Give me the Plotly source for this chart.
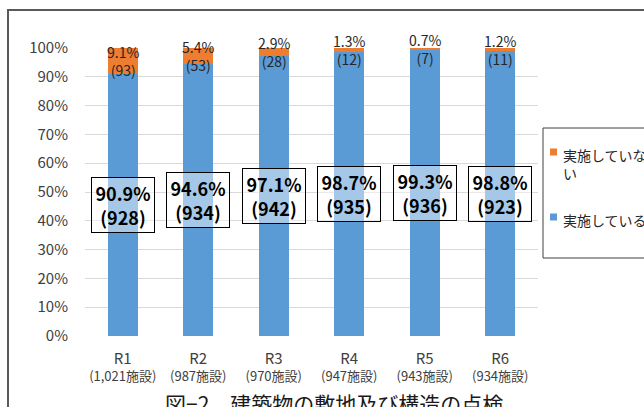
import plotly.graph_objects as go

categories = ["R1", "R2", "R3", "R4", "R5", "R6"]
facility_totals = ["1,021", "987", "970", "947", "943", "934"]
done_pct = [90.9, 94.6, 97.1, 98.7, 99.3, 98.8]
done_count = [928, 934, 942, 935, 936, 923]
notdone_pct = [9.1, 5.4, 2.9, 1.3, 0.7, 1.2]
notdone_count = [93, 53, 28, 12, 7, 11]
series_names = ["実施している", "実施していない"]
legend_labels = ["実施している", "実施していな<br>い"]
title_text = "図−2　建築物の敷地及び構造の点検"

BLUE = "#5B9BD5"
ORANGE = "#ED7D31"
FONT = "Noto Sans CJK JP"

W, H = 644, 407
L, R, T, B = 85, 106, 48, 71
pw, ph = W - L - R, H - T - B


def px(xp):
    return (xp - L) / pw


def py(yp):
    return (H - B - yp) / ph


fig = go.Figure()
fig.add_trace(go.Bar(x=categories, y=[v / 100 for v in done_pct], name=series_names[0],
                     marker=dict(color=BLUE, line=dict(width=0)), showlegend=False))
fig.add_trace(go.Bar(x=categories, y=[v / 100 for v in notdone_pct], name=series_names[1],
                     marker=dict(color=ORANGE, line=dict(width=0)), showlegend=False))

annotations = []
for c, dp, dc, npct, nc in zip(categories, done_pct, done_count, notdone_pct, notdone_count):
    annotations.append(dict(
        x=c, y=dp / 100 / 2, xref="x", yref="y",
        text=f"<b>{dp:.1f}%<br>({dc})</b>", showarrow=False,
        font=dict(family=FONT, size=18, color="#000000"),
        bordercolor="#000000", borderwidth=1, borderpad=3,
        bgcolor="rgba(255,255,255,0.45)", width=56, height=48,
    ))
    annotations.append(dict(
        x=c, y=(dp + npct / 2) / 100, xref="x", yref="y",
        text=f"{npct:.1f}%<br>({nc})", showarrow=False,
        font=dict(family=FONT, size=14, color="#262626"),
    ))

# title
annotations.append(dict(
    x=px(334), y=py(403), xref="paper", yref="paper", text=title_text,
    showarrow=False, font=dict(family=FONT, size=21, color="#1a1a1a"),
    xanchor="center", yanchor="middle",
))

# manual legend
legend_items = [(legend_labels[1], ORANGE, 152), (legend_labels[0], BLUE, 217)]
shapes = [
    dict(type="rect", xref="paper", yref="paper", x0=px(8), x1=px(700), y0=py(450), y1=py(10),
         line=dict(color="#5a5a5a", width=2), fillcolor="rgba(0,0,0,0)", layer="below"),
    dict(type="rect", xref="paper", yref="paper", x0=px(543), x1=px(700), y0=py(258), y1=py(128),
         line=dict(color="#404040", width=1), fillcolor="rgba(0,0,0,0)"),
]
for text, col, yc in legend_items:
    shapes.append(dict(type="rect", xref="paper", yref="paper", x0=px(550), x1=px(557),
                       y0=py(yc + 3.5), y1=py(yc - 3.5), line=dict(width=0), fillcolor=col))
    annotations.append(dict(x=px(561), y=py(yc - 9), xref="paper", yref="paper", text=text,
                            showarrow=False, xanchor="left", yanchor="top", align="left",
                            font=dict(family=FONT, size=14, color="#262626")))

ticktext = [f"<span style='font-size:15px'>{c}</span><br>({t}施設)" for c, t in zip(categories, facility_totals)]

fig.update_layout(
    width=W, height=H, margin=dict(l=L, r=R, t=T, b=B),
    barmode="stack", bargap=0.6,
    paper_bgcolor="white", plot_bgcolor="white",
    font=dict(family=FONT, color="#404040"),
    showlegend=False,
    annotations=annotations, shapes=shapes,
    xaxis=dict(type="category", tickvals=categories, ticktext=ticktext,
               tickfont=dict(size=13, color="#404040"), showgrid=False, showline=False,
               ticks="", ticklabelstandoff=14),
    yaxis=dict(range=[0, 1], dtick=0.1, tickformat=".0%", showgrid=True, gridcolor="#D9D9D9",
               gridwidth=1, zeroline=False, showline=False, ticks="",
               tickfont=dict(size=15, color="#404040"), ticklabelstandoff=16),
)

fig.write_html("out.html")
